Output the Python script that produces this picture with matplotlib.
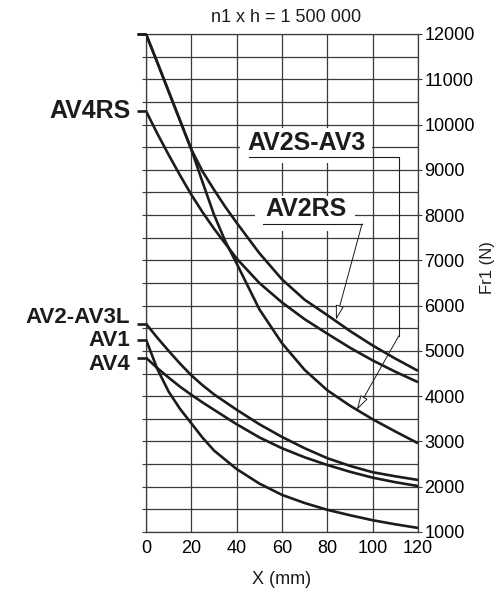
import matplotlib
matplotlib.use("Agg")
import matplotlib.pyplot as plt
from matplotlib.patches import Rectangle
from matplotlib.ticker import MultipleLocator

plt.rcParams['font.family'] = ['Liberation Sans', 'DejaVu Sans']

# X (mm) against Fr1 (N)
x_upper = [0, 5, 10, 15, 20, 25, 30, 35, 40, 50, 60, 70, 80, 90, 100, 110, 120]
av2s_av3 = [12000, 11370, 10730, 10090, 9450, 8720, 8010, 7420, 6930, 5920, 5170, 4580, 4130, 3790, 3490, 3220, 2960]
av2rs = [12000, 11370, 10730, 10090, 9450, 8960, 8560, 8180, 7830, 7160, 6580, 6130, 5790, 5440, 5120, 4830, 4560]
av4rs = [10300, 9800, 9330, 8880, 8450, 8060, 7700, 7370, 7040, 6500, 6070, 5700, 5380, 5070, 4790, 4540, 4310]

x_lower = [0, 5, 10, 15, 20, 25, 30, 40, 50, 60, 70, 80, 90, 100, 110, 120]
av2_av3l = [5600, 5290, 5000, 4720, 4460, 4240, 4040, 3700, 3380, 3100, 2850, 2630, 2460, 2320, 2230, 2150]
av1 = [5250, 4600, 4100, 3720, 3400, 3080, 2800, 2390, 2070, 1820, 1640, 1490, 1370, 1260, 1170, 1090]
av4 = [4850, 4620, 4410, 4210, 4030, 3860, 3700, 3380, 3090, 2850, 2650, 2480, 2330, 2200, 2100, 2015]

x_ticks = [0, 20, 40, 60, 80, 100, 120]
y_ticks = [1000, 2000, 3000, 4000, 5000, 6000, 7000, 8000, 9000, 10000, 11000, 12000]

title_text = "n1 x h = 1 500 000"
x_label = "X (mm)"
y_label = "Fr1 (N)"

# curves: (x, y, label on the left or None, label size, vertical nudge in points)
curves = [
    (x_upper, av2s_av3, None, 18, 0),
    (x_upper, av2rs, None, 18, 0),
    (x_upper, av4rs, "AV4RS", 18, 0),
    (x_lower, av2_av3l, "AV2-AV3L", 16, 4.5),
    (x_lower, av1, "AV1", 16, -0.5),
    (x_lower, av4, "AV4", 16, -5),
]

ink = '#1c1c1c'
grid_col = '#3a3a3a'

fig = plt.figure(figsize=(4.99, 5.92), dpi=100)
ax = fig.add_axes([146 / 499, 60 / 592, 272 / 499, 498 / 592])
ax.set_xlim(0, 120)
ax.set_ylim(1000, 12000)

# grid: vertical every 20 mm, horizontal every 500 N
ax.set_xticks(x_ticks)
ax.set_yticks(y_ticks)
ax.yaxis.set_minor_locator(MultipleLocator(500))
ax.set_axisbelow(True)
ax.grid(axis='x', which='major', color=grid_col, lw=0.9)
ax.grid(axis='y', which='both', color=grid_col, lw=0.9)
for s in ax.spines.values():
    s.set_color(grid_col)
    s.set_linewidth(0.9)

ax.yaxis.tick_right()
ax.tick_params(axis='y', which='major', left=True, right=True, labelleft=False,
               labelright=True, length=3, width=0.8, color=grid_col,
               labelsize=13, pad=1.5)
ax.tick_params(axis='y', which='minor', left=True, right=False, length=3,
               width=0.8, color=grid_col)
ax.tick_params(axis='x', length=0, labelsize=13, pad=6)

# white patches behind the two callout labels
ax.add_patch(Rectangle((41.5, 9150), 58.2, 770, fc='white', ec='none', zorder=1))
ax.add_patch(Rectangle((48.1, 7650), 44.1, 770, fc='white', ec='none', zorder=1))

# curves, each with a short lead-in dash left of the axis
for xs, ys, name, size, nudge in curves:
    ax.plot(xs, ys, color=ink, lw=1.9, zorder=3, solid_capstyle='butt')
    ax.plot([-4, 0], [ys[0], ys[0]], color=ink, lw=1.9, clip_on=False, zorder=3,
            solid_capstyle='butt')
    if name:
        ax.annotate(name, xy=(-7, ys[0]), xytext=(0, nudge),
                    textcoords='offset points', ha='right', va='center',
                    fontsize=size, fontweight='bold', color=ink,
                    annotation_clip=False)

# callout AV2S-AV3
ax.text(70.9, 9600, "AV2S-AV3", ha='center', va='center', fontsize=18,
        fontweight='bold', color=ink, zorder=4)
ax.plot([45.3, 111.5, 111.5], [9290, 9290, 5330], color=ink, lw=0.8, zorder=4)
ax.annotate('', xy=(93, 3695), xytext=(111.5, 5330),
            arrowprops=dict(arrowstyle='-|>,head_length=0.9,head_width=0.25',
                            fc='white', ec=ink, lw=0.7, shrinkA=0, shrinkB=0,
                            mutation_scale=10), zorder=4)

# callout AV2RS
ax.text(70.5, 8135, "AV2RS", ha='center', va='center', fontsize=18,
        fontweight='bold', color=ink, zorder=4)
ax.plot([51.5, 95.3], [7803, 7803], color=ink, lw=0.8, zorder=4)
ax.annotate('', xy=(83.8, 5683), xytext=(95.3, 7803),
            arrowprops=dict(arrowstyle='-|>,head_length=0.9,head_width=0.25',
                            fc='white', ec=ink, lw=0.7, shrinkA=0, shrinkB=0,
                            mutation_scale=10), zorder=4)

fig.text(286 / 499, 1 - 18 / 592, title_text, ha='center', va='center',
         fontsize=13, color=ink)
ax.set_xlabel(x_label, fontsize=13, color=ink, labelpad=10)
ax.text(1.257, 0.53, y_label, transform=ax.transAxes, rotation=90,
        ha='center', va='center', fontsize=12, color=ink)

fig.savefig("out.png", dpi=100)
